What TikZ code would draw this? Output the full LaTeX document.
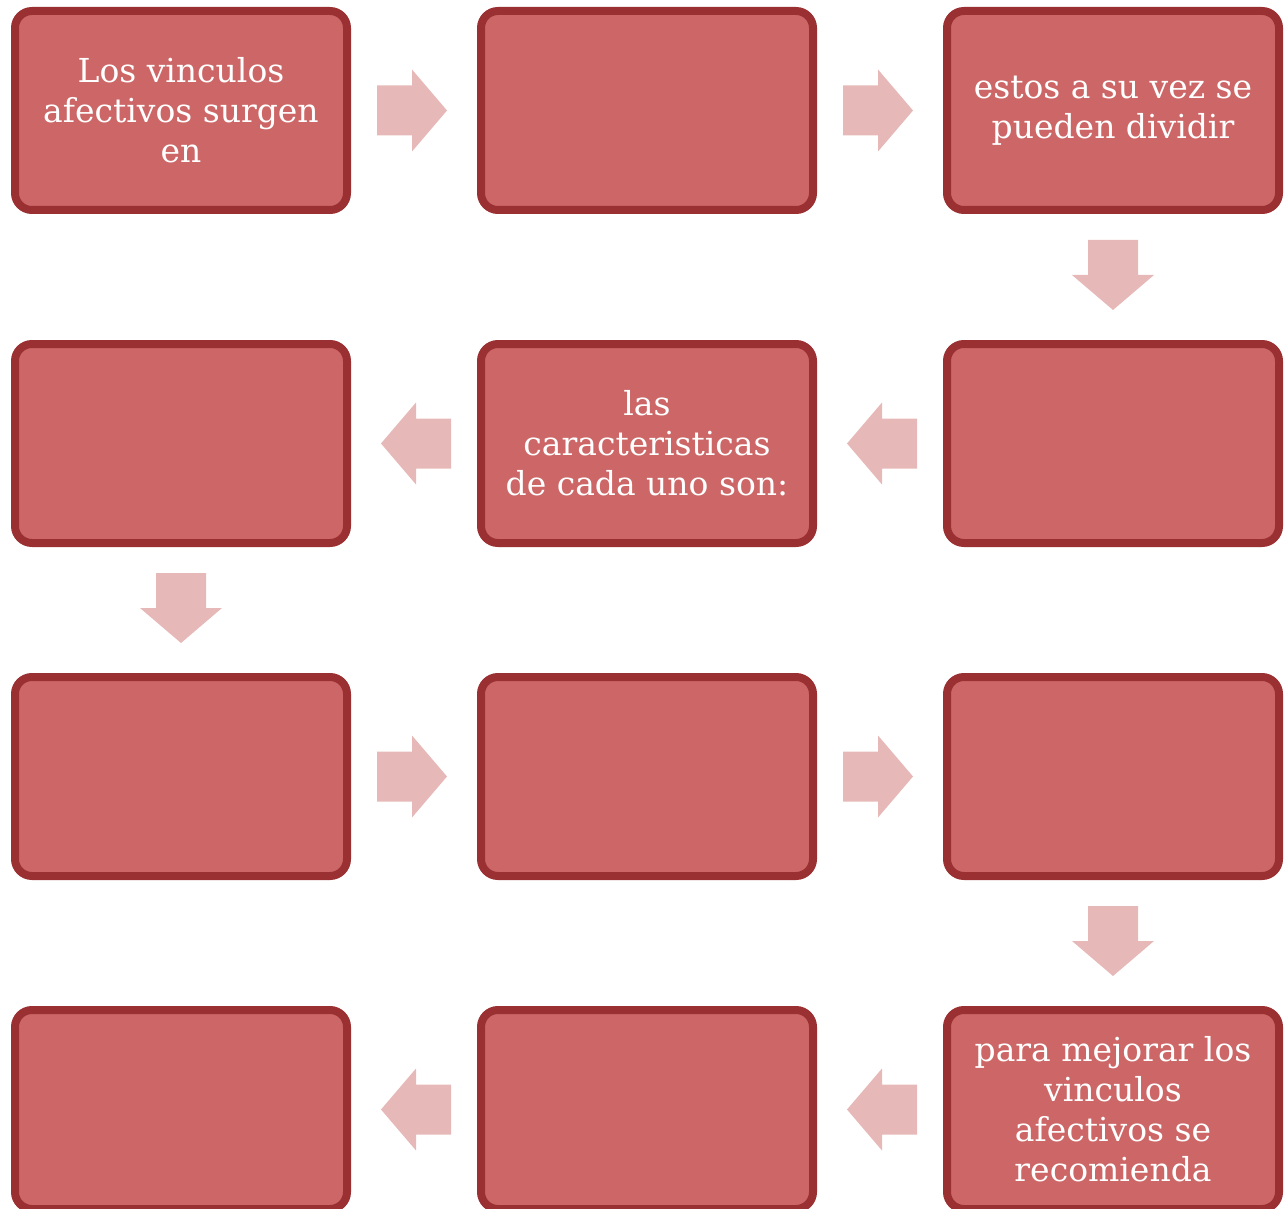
\documentclass[tikz,border=0pt]{standalone}
\usepackage{fontspec}
\setmainfont{DejaVu Serif}
\usetikzlibrary{calc}
\definecolor{boxfill}{HTML}{CD6767}
\definecolor{boxline}{HTML}{9B3032}
\definecolor{arrowfill}{HTML}{E6B8B7}
\tikzset{
  x=1pt, y=-1pt,
  stage/.style={draw=boxline, fill=boxfill, line width=8pt, rounded corners=17pt,
    minimum width=332pt, minimum height=199pt, inner sep=0pt, text=white,
    align=center, font=\fontsize{33}{40}\selectfont},
  blockarrow/.pic={\fill[arrowfill] (-35,-25) -- (0,-25) -- (0,-41) -- (35,0) -- (0,41) -- (0,25) -- (-35,25) -- cycle;}
}
\begin{document}
\begin{tikzpicture}
\useasboundingbox (0,0) rectangle (1286,1209);
\node[stage] (b1) at (181,110.5) {Los vinculos\\afectivos surgen\\en};
\node[stage] (b2) at (647,110.5) {};
\node[stage] (b3) at (1113,110.5) {estos a su vez se\\pueden dividir};
\node[stage] (b4) at (1113,443.5) {};
\node[stage] (b5) at (647,443.5) {las\\caracteristicas\\de cada uno son:};
\node[stage] (b6) at (181,443.5) {};
\node[stage] (b7) at (181,776.5) {};
\node[stage] (b8) at (647,776.5) {};
\node[stage] (b9) at (1113,776.5) {};
\node[stage] (b10) at (1113,1109.5) {para mejorar los\\vinculos\\afectivos se\\recomienda};
\node[stage] (b11) at (647,1109.5) {};
\node[stage] (b12) at (181,1109.5) {};
\pic at ($(b1.east)!0.5!(b2.west)+(-2,0)$) {blockarrow};
\pic at ($(b2.east)!0.5!(b3.west)+(-2,0)$) {blockarrow};
\pic[rotate=-90] at ($(b3.south)!0.5!(b4.north)+(0,-2)$) {blockarrow};
\pic[rotate=180] at ($(b4.west)!0.5!(b5.east)+(2,0)$) {blockarrow};
\pic[rotate=180] at ($(b5.west)!0.5!(b6.east)+(2,0)$) {blockarrow};
\pic[rotate=-90] at ($(b6.south)!0.5!(b7.north)+(0,-2)$) {blockarrow};
\pic at ($(b7.east)!0.5!(b8.west)+(-2,0)$) {blockarrow};
\pic at ($(b8.east)!0.5!(b9.west)+(-2,0)$) {blockarrow};
\pic[rotate=-90] at ($(b9.south)!0.5!(b10.north)+(0,-2)$) {blockarrow};
\pic[rotate=180] at ($(b10.west)!0.5!(b11.east)+(2,0)$) {blockarrow};
\pic[rotate=180] at ($(b11.west)!0.5!(b12.east)+(2,0)$) {blockarrow};
\end{tikzpicture}
\end{document}
